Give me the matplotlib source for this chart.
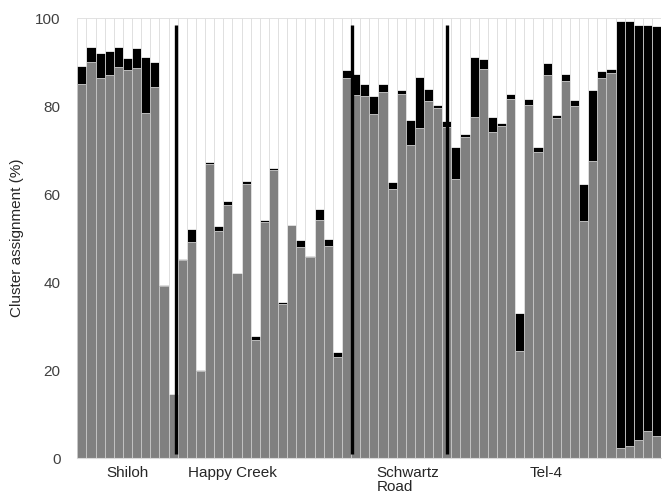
import numpy as np
import matplotlib
matplotlib.use('Agg')
import matplotlib.pyplot as plt

plt.rcParams['font.family'] = ['Liberation Sans', 'DejaVu Sans']

# cluster 1 (gray), cluster 2 (black) in %, the rest is cluster 3 (white)
gray = [85.1, 90.1, 86.4, 87.0, 88.9, 88.3, 88.7, 78.4, 84.4, 39.1, 14.5,
        44.9, 49.2, 19.8, 66.9, 51.5, 57.6, 42.0, 62.3, 26.9, 53.7, 65.4, 35.1,
        53.0, 48.0, 45.7, 54.2, 48.2, 23.0, 86.4,
        82.6, 82.2, 78.1, 83.1, 61.1, 82.8, 71.2, 75.1, 81.1, 79.5, 75.2,
        63.5, 72.9, 77.6, 88.5, 74.2, 75.4, 81.7, 24.4, 80.3, 69.6, 87.0, 77.3,
        85.6, 80.1, 53.9, 67.6, 86.4, 87.6,
        2.3, 2.7, 4.0, 6.2, 5.1]
black = [4.0, 3.3, 5.7, 5.5, 4.5, 2.6, 4.6, 12.7, 5.7, 0.3, 0.0,
         0.3, 2.8, 0.2, 0.4, 1.2, 0.9, 0.0, 0.6, 0.9, 0.3, 0.5, 0.4,
         0.0, 1.6, 0.3, 2.5, 1.6, 1.0, 1.9,
         4.6, 2.7, 4.1, 1.8, 1.6, 0.8, 5.7, 11.5, 2.8, 0.7, 1.5,
         7.1, 0.7, 13.5, 2.3, 3.2, 0.7, 1.0, 8.5, 1.2, 1.0, 2.8, 0.7,
         1.7, 1.2, 8.4, 16.1, 1.6, 0.9,
         97.0, 96.6, 94.4, 92.2, 93.0]

pop_names = ['Shiloh', 'Happy Creek', 'Schwartz\nRoad', 'Tel-4']
pop_label_x = [4.95, 16.46, 32.3, 50.9]
pop_label_ha = ['center', 'center', 'left', 'center']
separators = [10.29, 29.64, 40.02]

gray = np.array(gray)
black = np.array(black)
white = 100 - gray - black
x = np.arange(len(gray))

fig = plt.figure(figsize=(6.62, 4.96), dpi=100)
ax = fig.add_axes([0.1168, 0.0766, 0.882, 0.887])

edge = '#c8c8c8'
ax.bar(x, gray, width=1, color='#808080', edgecolor=edge, linewidth=0.6)
ax.bar(x, black, width=1, bottom=gray, color='black', edgecolor=edge, linewidth=0.6)
ax.bar(x, white, width=1, bottom=gray + black, color='white', edgecolor='#dddddd', linewidth=0.6)

for s in separators:
    ax.plot([s, s], [1.0, 98.5], color='black', linewidth=2.4, solid_capstyle='butt')

for name, px, ha in zip(pop_names, pop_label_x, pop_label_ha):
    ax.text(px, -1.8, name, ha=ha, va='top', fontsize=11, color='#262626',
            linespacing=1.0)

ax.set_xlim(-0.5, len(gray) - 0.5)
ax.set_ylim(0, 100)
ax.set_yticks(range(0, 101, 20))
ax.set_xticks([])
ax.tick_params(axis='y', length=0, pad=12, labelsize=11, labelcolor='#404040')
ax.set_ylabel('Cluster assignment (%)', fontsize=11, color='#262626', labelpad=8)
for side in ['top', 'right', 'left']:
    ax.spines[side].set_visible(False)
ax.spines['bottom'].set_color('#d9d9d9')

fig.savefig('out.png', dpi=100)
